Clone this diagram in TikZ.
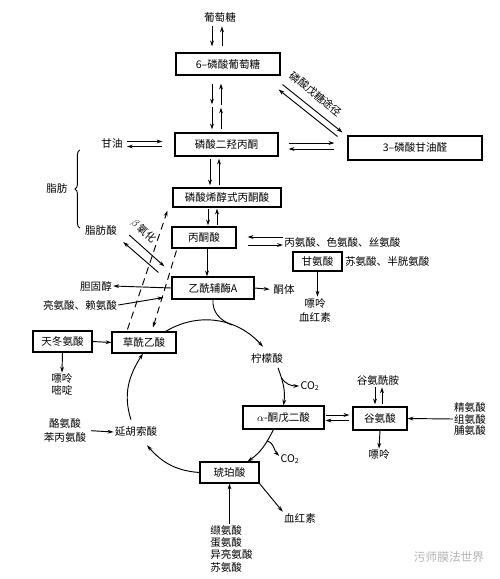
\documentclass[tikz,border=0pt]{standalone}
\usepackage{fontspec}
\setmainfont{Noto Sans CJK SC}
\usetikzlibrary{arrows.meta, positioning, decorations.pathreplacing}

\begin{document}
\begin{tikzpicture}[
  x=0.03cm, y=-0.03cm,
  font=\fontsize{9}{11.5}\selectfont,
  box/.style={draw, line width=0.9pt, inner sep=0pt, minimum height=0.63cm,
              align=center},
  txt/.style={inner sep=1pt, align=center},
  arr/.style={-{Stealth[length=5pt, width=3.2pt]}, line width=0.8pt},
  dasharr/.style={arr, dash pattern=on 6pt off 4pt},
  brc/.style={decorate, decoration={brace, amplitude=4pt}, line width=0.8pt}
]
  \useasboundingbox (0,0) rectangle (500,579);

  % glycolysis
  \node[txt] (glc) at (220,17) {葡萄糖};
  \node[box, minimum width=3.12cm, minimum height=0.66cm] (g6p) at (228,64) {6–磷酸葡萄糖};
  \node[box, minimum width=3.09cm, minimum height=0.69cm] (dhap) at (226.5,144.5) {磷酸二羟丙酮};
  \node[box, minimum width=4.02cm, minimum height=0.72cm] (gap) at (415,148) {3–磷酸甘油醛};
  \node[box, minimum width=3.24cm, minimum height=0.57cm] (pep) at (227,197.5) {磷酸烯醇式丙酮酸};
  \node[box, minimum width=1.92cm] (pyr) at (204,237.5) {丙酮酸};
  \node[box, minimum width=2.46cm, minimum height=0.66cm] (aca) at (213,288) {乙酰辅酶A};
  \node[txt] (ket) at (284,289.5) {酮体};
  \node[txt, rotate=-39, inner sep=0pt] (pppl) at (316,94) {磷酸戊糖途径};

  % amino acids round pyruvate
  \node[txt, anchor=west] (ala) at (283,242.5) {丙氨酸、色氨酸、丝氨酸};
  \node[box, minimum width=1.47cm, minimum height=0.57cm] (gly) at (317.5,261.5) {甘氨酸};
  \node[txt, right=1pt of gly] (thr) {苏氨酸、半胱氨酸};
  \node[txt, font=\fontsize{9}{12}\selectfont] (glypur) at (315,310) {嘌呤\\血红素};

  % fats
  \node[txt] (glyc) at (112,143) {甘油};
  \node[txt] (fat) at (57,188) {脂肪};
  \node[txt] (fa) at (101,230) {脂肪酸};
  \node[txt, rotate=-41, inner sep=0pt] (betal) at (144,231) {$\beta$\,氧化};
  \node[txt] (chol) at (96,286) {胆固醇};
  \node[txt] (leulys) at (80,305) {亮氨酸、赖氨酸};

  % TCA cycle
  \node[box, minimum width=1.92cm] (oaa) at (144,342.5) {草酰乙酸};
  \node[box, minimum width=1.77cm] (asp) at (62.5,341.5) {天冬氨酸};
  \node[txt, font=\fontsize{9}{9.5}\selectfont] (asppur) at (62,384.5) {嘌呤\\嘧啶};
  \node[txt] (cit) at (267,358) {柠檬酸};
  \node[txt] (co2a) at (310,386) {CO\textsubscript{2}};
  \node[box, minimum width=2.43cm, minimum height=0.69cm] (akg) at (283.5,417.5) {$\alpha$-酮戊二酸};
  \node[txt] (co2b) at (290,459) {CO\textsubscript{2}};
  \node[box, minimum width=1.77cm] (suc) at (229.5,472.5) {琥珀酸};
  \node[txt] (fum) at (136,432) {延胡索酸};
  \node[txt, font=\fontsize{9}{12.5}\selectfont] (tyr) at (65,430.5) {酪氨酸\\苯丙氨酸};
  \node[txt] (heme) at (300,518) {血红素};
  \node[txt, align=left, anchor=north west, font=\fontsize{9}{10.5}\selectfont]
    (val) at (209,524) {缬氨酸\\蛋氨酸\\异亮氨酸\\苏氨酸};

  % glutamate
  \node[box, minimum width=1.62cm, minimum height=0.69cm] (glu) at (380,418.5) {谷氨酸};
  \node[txt] (gln) at (378,380) {谷氨酰胺};
  \node[txt] (glupur) at (379,455) {嘌呤};
  \node[txt, font=\fontsize{9}{9.5}\selectfont] (arg) at (470,419) {精氨酸\\组氨酸\\脯氨酸};

  \node[txt, text=gray!60, font=\fontsize{10}{12}\selectfont] (wm) at (449,557) {污师膜法世界};

  % main chain
  \draw[arr] ([shift={(-8,3)}]glc.south) -- ([shift={(-16,-6)}]g6p.north);
  \draw[arr] ([shift={(-6,-6)}]g6p.north) -- ([shift={(2,3)}]glc.south);
  \draw[arr] ([shift={(-16,8)}]g6p.south) -- ([shift={(-16,29)}]g6p.south);
  \draw[arr] ([shift={(-7,29)}]g6p.south) -- ([shift={(-7,8)}]g6p.south);
  \draw[arr] ([shift={(-14.5,-25)}]dhap.north) -- ([shift={(-14.5,-3)}]dhap.north);
  \draw[arr] ([shift={(-5.5,-3)}]dhap.north) -- ([shift={(-5.5,-25)}]dhap.north);
  \draw[arr] ([shift={(-16.5,2)}]dhap.south) -- ([shift={(-17,-2)}]pep.north);
  \draw[arr] ([shift={(-8,-2)}]pep.north) -- ([shift={(-7.5,2)}]dhap.south);
  \draw[arr] ([shift={(-19,1)}]pep.south) -- ([shift={(4,-1)}]pyr.north);
  \draw[arr] ([shift={(13,-1)}]pyr.north) -- ([shift={(-10,1)}]pep.south);
  \draw[arr] ([shift={(3,0)}]pyr.south) -- ([shift={(-6,0)}]aca.north);
  \draw[arr, shorten >=2pt] (aca.east) -- (ket.west);

  \draw[arr] ([shift={(3,-1.5)}]glyc.east) -- ([shift={(-12,-3)}]dhap.west);
  \draw[arr] ([shift={(-12,2)}]dhap.west) -- ([shift={(3,3.5)}]glyc.east);
  \draw[arr] ([shift={(10,-1.5)}]dhap.east) -- ([shift={(-13,-5)}]gap.west);
  \draw[arr] ([shift={(-13,1)}]gap.west) -- ([shift={(10,4.5)}]dhap.east);
  \draw[arr] ([shift={(2,9)}]g6p.south east) -- ([shift={(-5,-3)}]gap.north west);
  \draw[arr] ([shift={(-10,1)}]gap.north west) -- ([shift={(-2,14)}]g6p.south east);

  \draw[arr] ([shift={(0,-5.5)}]ala.west) -- ([shift={(11,-0.5)}]pyr.east);
  \draw[arr] ([shift={(11,7.5)}]pyr.east) -- ([shift={(0,2.5)}]ala.west);
  \draw[arr] (gly.south) -- (gly.south |- glypur.north);

  % fats, beta oxidation
  \draw[brc] ([shift={(-4,-2)}]fa.west) -- ([shift={(-4,-80)}]fa.west);
  \draw[arr] ([shift={(11,5)}]fa.east) -- ([shift={(-7,-10)}]aca.north west);
  \draw[arr] ([shift={(-13,-4)}]aca.north west) -- ([shift={(5,12)}]fa.east);
  \draw[arr] (aca.west) -- (chol.east);
  \draw[arr] (leulys.east) -- ([shift={(-8,-2)}]aca.south west);

  \draw[dasharr] ([shift={(16,-2)}]oaa.north west) -- ([shift={(-5,3)}]pep.south west);
  \draw[dasharr] ([shift={(5,2)}]pyr.south west) -- ([shift={(9,-4)}]oaa.north);

  \draw[arr] (asp.east) -- (oaa.west);
  \draw[arr] (asp.south) -- (asppur.north);

  % cycle
  \draw[arr] ([shift={(-11,0)}]oaa.north east) to[out=31, in=132]
    coordinate[pos=0.65] (jn) ([shift={(-4,-5)}]cit.north);
  \draw[line width=0.8pt] (aca.south) to[out=-95, in=160] (jn);
  \draw[arr] ([shift={(11,3.5)}]cit.south) to[out=-70, in=82]
    coordinate[pos=0.25] (br1) (akg.north);
  \draw[arr] (br1) to[out=-60, in=180] (co2a.west);
  \draw[arr] ([shift={(-10,0)}]akg.south) to[out=-117, in=34]
    coordinate[pos=0.3] (br2) ([shift={(18,0)}]suc.north);
  \draw[arr] (br2) to[out=-15, in=135] ([shift={(0,-3)}]co2b.west);
  \draw[arr] (suc.west) to[out=176, in=-49] ([shift={(11,7)}]fum.south);
  \draw[arr] ([shift={(-5,-6)}]fum.north) to[out=108, in=-123] ([shift={(-1,0)}]oaa.south);

  % glutamate
  \draw[arr] ([shift={(1,-2.5)}]akg.east) -- ([shift={(-3,-3.5)}]glu.west);
  \draw[arr] ([shift={(-3,2)}]glu.west) -- ([shift={(1,3)}]akg.east);
  \draw[arr] ([shift={(-3,1)}]gln.south) -- ([shift={(-5,-2)}]glu.north);
  \draw[arr] ([shift={(2,-2)}]glu.north) -- ([shift={(4,1)}]gln.south);
  \draw[arr] (glu.south) -- (glupur.north);
  \draw[arr] (arg.west) -- (glu.east);

  \draw[arr, shorten <=3pt] (tyr.east) -- (fum.west);
  \draw[arr] (suc.south east) -- (heme.north west);
  \draw[arr] (val.north -| suc.south) -- (suc.south);
\end{tikzpicture}
\end{document}
